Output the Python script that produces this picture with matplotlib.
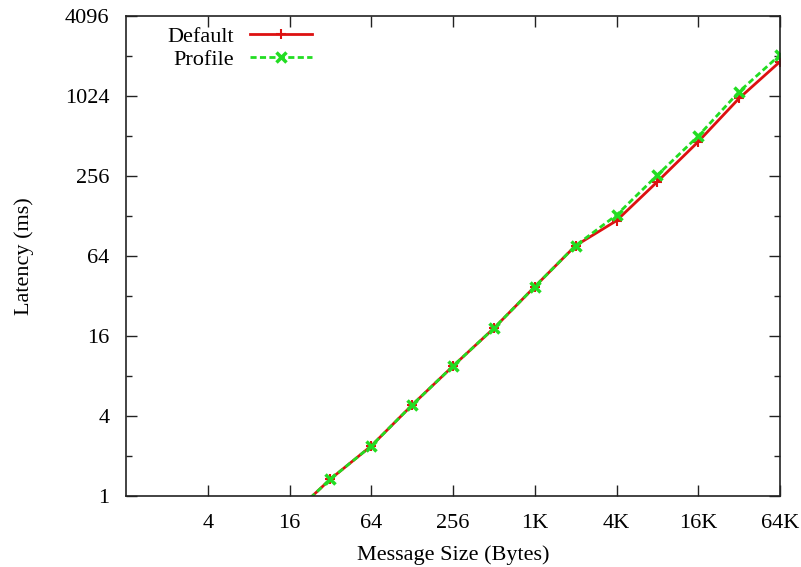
import matplotlib
matplotlib.use('Agg')
import matplotlib.pyplot as plt
from matplotlib.ticker import FixedLocator, NullFormatter

# message sizes in bytes and latencies in ms
sizes = [16, 32, 64, 128, 256, 512, 1024, 2048, 4096, 8192, 16384, 32768, 65536]
default_ms = [0.69, 1.34, 2.38, 4.84, 9.5, 18.3, 37.6, 76.6, 118, 232, 464, 984, 1856]
profile_ms = [0.69, 1.34, 2.38, 4.84, 9.5, 18.3, 37.6, 76.6, 130, 260, 512, 1104, 2088]

xticks = [4, 16, 64, 256, 1024, 4096, 16384, 65536]
xticklabels = ['4', '16', '64', '256', '1K', '4K', '16K', '64K']
yticks = [1, 4, 16, 64, 256, 1024, 4096]
yminor = [2, 8, 32, 128, 512, 2048]

plt.rcParams['font.family'] = ['Liberation Serif', 'DejaVu Serif']
fs = 16

fig = plt.figure(figsize=(8.01, 5.67), dpi=100)
ax = fig.add_axes([126 / 801, 1 - 496 / 567, 654 / 801, 480 / 567])

ax.plot(sizes, default_ms, color='#dd1111', lw=2, marker='+', ms=7, mew=1.5,
        label='Default')
ax.plot(sizes, profile_ms, color='#22dd22', lw=2, ls=(0, (2.2, 1.2)), marker='x',
        ms=7, mew=2.5, label='Profile')

ax.set_xscale('log', base=2)
ax.set_yscale('log', base=2)
ax.set_xlim(1, 65536)
ax.set_ylim(1, 4096)

ax.xaxis.set_major_locator(FixedLocator(xticks))
ax.set_xticklabels(xticklabels)
ax.xaxis.set_minor_locator(FixedLocator([]))
ax.yaxis.set_major_locator(FixedLocator(yticks))
ax.set_yticklabels([str(v) for v in yticks])
ax.yaxis.set_minor_locator(FixedLocator(yminor))
ax.yaxis.set_minor_formatter(NullFormatter())

ax.tick_params(which='both', direction='in', top=True, right=True, labelsize=fs,
               color='#222222')
ax.tick_params(axis='x', which='major', length=8, width=1, pad=13)
ax.tick_params(axis='y', which='major', length=8, width=1, pad=12)
ax.tick_params(which='minor', length=4, width=1)
for s in ax.spines.values():
    s.set_linewidth(1.2)
    s.set_color('#222222')

ax.set_xlabel('Message Size (Bytes)', fontsize=fs, labelpad=9)
ax.set_ylabel('Latency (ms)', fontsize=fs, labelpad=22)

ax.legend(loc='upper right', bbox_to_anchor=(0.284, 0.978), frameon=False,
          markerfirst=False, fontsize=fs, handlelength=2.8, borderpad=0,
          borderaxespad=0, labelspacing=0.1, handletextpad=0.7)

fig.savefig('out.png', dpi=100)
